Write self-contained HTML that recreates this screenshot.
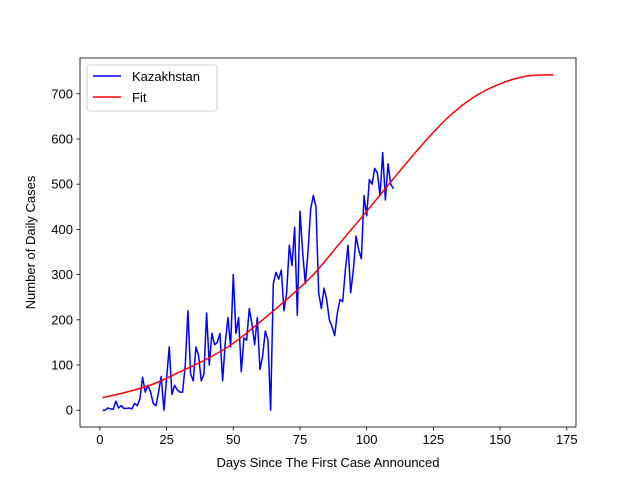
<!DOCTYPE html>
<html><head><meta charset="utf-8"><style>
body{margin:0;background:#fff;font-family:"Liberation Sans",sans-serif}
svg text{font-family:"Liberation Sans",sans-serif;font-size:13px;fill:#000}
</style></head><body>
<svg id="c" width="640" height="480" xmlns="http://www.w3.org/2000/svg"></svg>
<script>
const days = [];
for (let d = 1; d <= 110; d++) days.push(d);
const cases = [0,0,5,3,2,20,5,10,4,4,5,3,15,10,25,73,40,55,40,15,10,40,75,0,70,140,35,55,45,40,40,100,220,80,65,140,120,65,80,215,100,170,145,150,170,65,150,205,140,300,170,205,85,160,155,225,190,145,205,90,120,175,155,0,280,305,290,310,220,260,365,320,405,210,440,350,280,350,445,475,450,260,225,270,245,200,185,165,215,245,240,310,365,260,310,385,355,335,475,430,510,500,535,525,475,570,465,545,500,490];
const fitDays = [1,10,20,30,40,50,60,70,80,90,100,110,120,130,140,150,160,170];
const fitVals = [28,40,58,85,113,148,195,245,300,370,440,512,582,645,692,722,739,742];
const xTicks = [0,25,50,75,100,125,150,175];
const yTicks = [0,100,200,300,400,500,600,700];

const L=80,R=576,T=58,B=427;
const xmin=-7.45,xmax=178.45,ymin=-37.1,ymax=779.1;
const X=v=>L+(v-xmin)/(xmax-xmin)*(R-L);
const Y=v=>B-(v-ymin)/(ymax-ymin)*(B-T);
const svg=document.getElementById('c');
const NS='http://www.w3.org/2000/svg';
function mk(tag,attrs,parent){const e=document.createElementNS(NS,tag);for(const k in attrs)e.setAttribute(k,attrs[k]);(parent||svg).appendChild(e);return e;}

xTicks.forEach(t=>{
  const l=mk('line',{x1:X(t),x2:X(t),y1:B,y2:B+3.5,stroke:'#000','stroke-width':0.8});
  
  
  const tx=mk('text',{x:X(t),y:B+17,'text-anchor':'middle'});tx.textContent=t;
  
  
});
yTicks.forEach(t=>{
  const l=mk('line',{x1:L-3.5,x2:L,y1:Y(t),y2:Y(t),stroke:'#000','stroke-width':0.8});
  
  
  const tx=mk('text',{x:L-7,y:Y(t)+4.5,'text-anchor':'end'});tx.textContent=t;
  
  
});

// fit curve via Catmull-Rom
let fp=fitDays.map((d,i)=>[X(d),Y(fitVals[i])]);
let dstr='M'+fp[0][0]+','+fp[0][1];
for(let i=0;i<fp.length-1;i++){
  const p0=fp[Math.max(0,i-1)],p1=fp[i],p2=fp[i+1],p3=fp[Math.min(fp.length-1,i+2)];
  const c1=[p1[0]+(p2[0]-p0[0])/6,p1[1]+(p2[1]-p0[1])/6];
  const c2=[p2[0]-(p3[0]-p1[0])/6,p2[1]-(p3[1]-p1[1])/6];
  dstr+=`C${c1[0]},${c1[1]} ${c2[0]},${c2[1]} ${p2[0]},${p2[1]}`;
}
const data=mk('polyline',{points:days.map((d,i)=>X(d)+','+Y(cases[i])).join(' '),fill:'none',stroke:'#0000ff','stroke-width':1.5,'stroke-linejoin':'round'});


const fit=mk('path',{d:dstr,fill:'none',stroke:'#ff0000','stroke-width':1.5});



const frame=mk('rect',{x:L,y:T,width:R-L,height:B-T,fill:'none',stroke:'#000','stroke-width':0.8});



const xt=mk('text',{x:(L+R)/2,y:467,'text-anchor':'middle'});xt.textContent='Days Since The First Case Announced';


const yt=mk('text',{x:0,y:0,'text-anchor':'middle',transform:`translate(35,${(T+B)/2}) rotate(-90)`});yt.textContent='Number of Daily Cases';



const lg=mk('g',{});


mk('rect',{x:87,y:65,width:130,height:46,rx:3,fill:'#fff',stroke:'#ccc','stroke-width':1},lg);
const e1=mk('line',{x1:93,x2:121,y1:76,y2:76,stroke:'#0000ff','stroke-width':1.5},lg);


const t1=mk('text',{x:132,y:81},lg);t1.textContent='Kazakhstan';


const e2=mk('line',{x1:93,x2:121,y1:97,y2:97,stroke:'#ff0000','stroke-width':1.5},lg);


const t2=mk('text',{x:132,y:102},lg);t2.textContent='Fit';


</script>
</body></html>
